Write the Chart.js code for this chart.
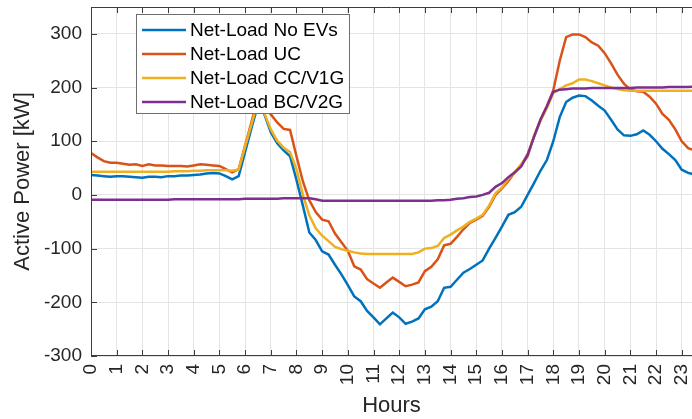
<!DOCTYPE html>
<html>
<head>
<meta charset="utf-8">
<script src="https://cdn.jsdelivr.net/npm/chart.js@4/dist/chart.umd.min.js"></script>
<style>
    html, body { margin: 0; padding: 0; background: #fff; overflow: hidden; }
</style>
</head>
<body>
<canvas id="chart" width="692" height="419"></canvas>
<script>
// 15-minute steps over the day
const hours = Array.from({ length: 96 }, (_, i) => i / 4);

const seriesLabels = ['Net-Load No EVs', 'Net-Load UC', 'Net-Load CC/V1G', 'Net-Load BC/V2G'];
const seriesColors = ['#0072BD', '#D95319', '#EDB120', '#7E2F8E'];

const noEvs = [
    37, 36, 35, 34, 35, 35, 34, 33,
    32, 34, 34, 33, 35, 35, 36, 36,
    37, 38, 40, 41, 40, 35, 29, 35,
    80, 125, 168, 150, 117, 96, 83, 72,
    28, -20, -70, -84, -105, -111, -130, -148,
    -168, -189, -198, -216, -228, -241, -230, -219,
    -228, -240, -236, -230, -213, -208, -198, -173,
    -171, -158, -145, -138, -130, -122, -100, -80,
    -59, -37, -32, -22, 0, 22, 45, 65,
    100, 145, 173, 181, 185, 184, 176, 166,
    157, 140, 122, 111, 110, 113, 120, 112,
    100, 86, 76, 65, 47, 41, 38, 36
];
const uc = [
    78, 70, 63, 60, 60, 58, 56, 57,
    54, 57, 55, 55, 54, 54, 54, 53,
    55, 57, 56, 55, 54, 48, 42, 48,
    92, 136, 180, 165, 150, 135, 123, 121,
    72, 25, -10, -32, -46, -49, -72, -88,
    -104, -133, -139, -157, -165, -173, -163, -154,
    -162, -170, -167, -163, -142, -134, -120, -94,
    -91, -78, -64, -52, -46, -39, -22, 0,
    12, 26, 42, 56, 72, 110, 140, 165,
    195, 250, 294, 299, 299, 294, 284, 278,
    264, 245, 224, 207, 196, 193, 192, 183,
    170, 151, 140, 122, 100, 87, 83, 82
];
const ccV1g = [
    43, 43, 43, 43, 43, 43, 43, 43,
    43, 43, 43, 43, 43, 44, 44, 44,
    45, 45, 46, 46, 46, 46, 45, 47,
    90, 132, 174, 152, 122, 101, 88, 80,
    48, 0, -38, -62, -76, -86, -97, -101,
    -104, -107, -109, -110, -110, -110, -110, -110,
    -110, -110, -110, -107, -100, -99, -95, -80,
    -74, -66, -59, -50, -44, -37, -20, 3,
    14, 30, 42, 57, 76, 108, 138, 162,
    190, 197, 204, 208, 215, 215, 212, 208,
    204, 200, 197, 195, 194, 194, 194, 194,
    194, 194, 194, 194, 194, 194, 194, 194
];
const bcV2g = [
    -9, -9, -9, -9, -9, -9, -9, -9,
    -9, -9, -9, -9, -9, -8, -8, -8,
    -8, -8, -8, -8, -8, -8, -8, -8,
    -7, -7, -7, -7, -7, -7, -6, -6,
    -6, -6, -6, -8, -11, -11, -11, -11,
    -11, -11, -11, -11, -11, -11, -11, -11,
    -11, -11, -11, -11, -11, -11, -10, -10,
    -9, -7, -6, -4, -3, 0, 4, 15,
    22, 33, 42, 53, 75, 108, 140, 165,
    192, 196, 197, 198, 198, 198, 199, 199,
    199, 199, 199, 199, 199, 200, 200, 200,
    200, 200, 201, 201, 201, 201, 202, 202
];

const yTicks = [-300, -200, -100, 0, 100, 200, 300];
const xTicks = Array.from({ length: 24 }, (_, i) => i);

const fontFamily = "'Liberation Sans', Arial, sans-serif";
const textColor = '#262626';
const axisColor = '#3c3c3c';
const gridColor = '#e4e4e4';

const allSeries = [noEvs, uc, ccV1g, bcV2g];

// axes box, inward tick marks and the floating legend
const framePlugin = {
    id: 'frame',
    afterDraw(chart) {
        const { ctx, chartArea: a, scales: { x, y } } = chart;
        ctx.save();
        ctx.strokeStyle = axisColor;
        ctx.lineWidth = 1;
        ctx.beginPath();
        ctx.moveTo(a.right, a.top + 0.5);
        ctx.lineTo(a.left + 0.5, a.top + 0.5);
        ctx.lineTo(a.left + 0.5, a.bottom - 0.5);
        ctx.lineTo(a.right, a.bottom - 0.5);
        xTicks.forEach(v => {
            const px = Math.round(x.getPixelForValue(v)) + 0.5;
            ctx.moveTo(px, a.bottom);
            ctx.lineTo(px, a.bottom - 6);
            ctx.moveTo(px, a.top);
            ctx.lineTo(px, a.top + 6);
        });
        yTicks.forEach(v => {
            const py = Math.round(y.getPixelForValue(v)) + 0.5;
            ctx.moveTo(a.left, py);
            ctx.lineTo(a.left + 6, py);
        });
        ctx.stroke();

        // legend
        const box = { left: 136.5, top: 14.5, width: 213, height: 99 };
        ctx.fillStyle = '#fff';
        ctx.fillRect(box.left, box.top, box.width, box.height);
        ctx.strokeStyle = '#6e6e6e';
        ctx.strokeRect(box.left, box.top, box.width, box.height);
        ctx.font = '19px ' + fontFamily;
        ctx.textBaseline = 'middle';
        ctx.textAlign = 'left';
        chart.data.datasets.forEach((ds, i) => {
            const rowY = 30 + i * 24;
            ctx.strokeStyle = ds.borderColor;
            ctx.lineWidth = 2.5;
            ctx.beginPath();
            ctx.moveTo(142, rowY);
            ctx.lineTo(186, rowY);
            ctx.stroke();
            ctx.fillStyle = '#000';
            ctx.fillText(ds.label, 190, rowY + 1);
        });
        ctx.restore();
    }
};

new Chart(document.getElementById('chart'), {
    type: 'line',
    data: {
        datasets: allSeries.map((values, i) => ({
            label: seriesLabels[i],
            data: values.map((v, k) => ({ x: hours[k], y: v })),
            borderColor: seriesColors[i],
            borderWidth: 2.5,
            pointRadius: 0,
            tension: 0,
            fill: false,
            order: 4 - i
        }))
    },
    options: {
        responsive: false,
        devicePixelRatio: 1,
        animation: false,
        layout: { padding: { top: 7, right: 0, bottom: 0, left: 0 } },
        plugins: { legend: { display: false }, tooltip: { enabled: false } },
        scales: {
            x: {
                type: 'linear',
                min: 0,
                max: 23.4,
                afterBuildTicks: scale => { scale.ticks = xTicks.map(v => ({ value: v })); },
                afterFit: scale => {
                    scale.height = 63;
                    scale.paddingLeft = 0;
                    scale.paddingRight = 0;
                },
                grid: { color: gridColor, drawTicks: false },
                border: { display: false },
                ticks: {
                    autoSkip: false,
                    minRotation: 90,
                    maxRotation: 90,
                    padding: 8,
                    color: textColor,
                    font: { family: fontFamily, size: 19 }
                },
                title: {
                    display: true,
                    text: 'Hours',
                    color: textColor,
                    padding: { top: 0, bottom: 0 },
                    font: { family: fontFamily, size: 22 }
                }
            },
            y: {
                min: -300,
                max: 350,
                afterBuildTicks: scale => { scale.ticks = yTicks.map(v => ({ value: v })); },
                afterFit: scale => {
                    scale.width = 91;
                    scale.paddingTop = 0;
                    scale.paddingBottom = 0;
                },
                grid: { color: gridColor, drawTicks: false },
                border: { display: false },
                ticks: {
                    padding: 9,
                    color: textColor,
                    font: { family: fontFamily, size: 19 }
                },
                title: {
                    display: true,
                    text: 'Active Power [kW]',
                    color: textColor,
                    padding: { top: 10, bottom: 0 },
                    font: { family: fontFamily, size: 22 }
                }
            }
        }
    },
    plugins: [framePlugin]
});
</script>
</body>
</html>
